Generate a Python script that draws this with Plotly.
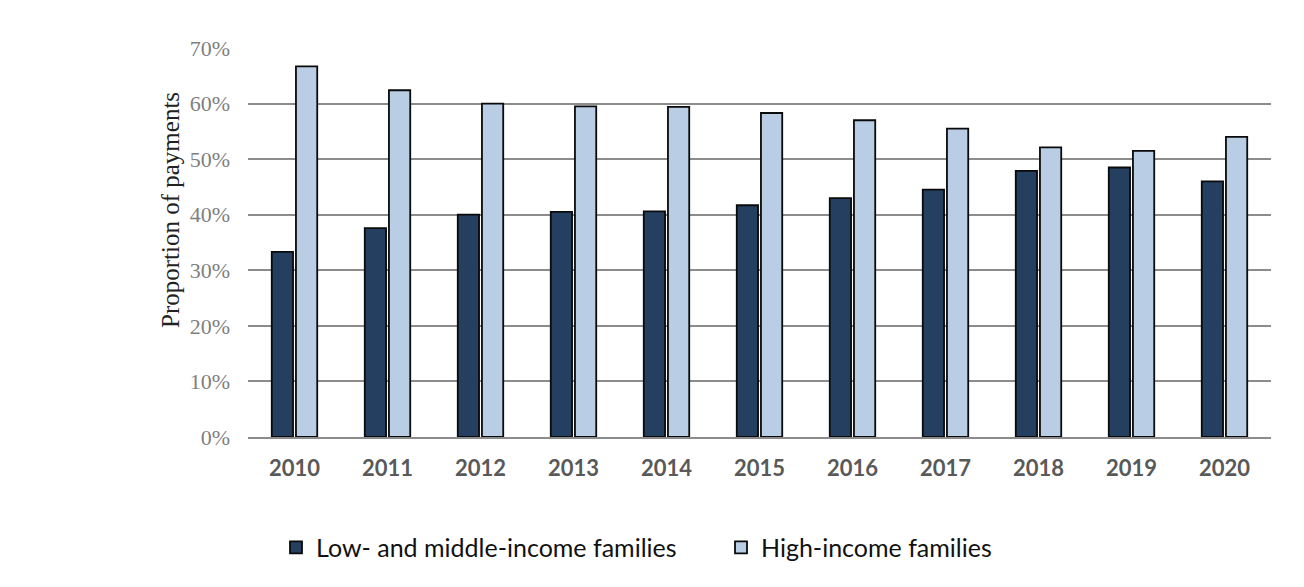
import plotly.graph_objects as go

years = ["2010", "2011", "2012", "2013", "2014", "2015", "2016", "2017", "2018", "2019", "2020"]
low_mid = [33.3, 37.6, 40.0, 40.5, 40.6, 41.7, 43.0, 44.5, 47.9, 48.5, 46.0]
high = [66.7, 62.4, 60.0, 59.5, 59.4, 58.3, 57.0, 55.5, 52.1, 51.5, 54.0]
y_ticks = [0, 10, 20, 30, 40, 50, 60, 70]
y_labels = [f"{v}%" for v in y_ticks]

# page pixel geometry (page has an 8px body margin)
PL, PR, PT, PB = 248, 1271, 48, 437
OFF = 8
W, H = 1304, 587
pw, ph = PR - PL, PB - PT

fig = go.Figure()
fig.add_trace(go.Bar(x=years, y=low_mid, name="Low- and middle-income families",
                     marker=dict(color="#243F60", line=dict(color="#0a0a0a", width=1.8))))
fig.add_trace(go.Bar(x=years, y=high, name="High-income families",
                     marker=dict(color="#B9CDE5", line=dict(color="#0a0a0a", width=1.8))))

fig.update_layout(
    width=W, height=H,
    margin=dict(l=PL - OFF, r=W - (PR - OFF), t=PT - OFF, b=H - (PB - OFF)),
    paper_bgcolor="white", plot_bgcolor="white",
    barmode="group", bargap=0.48, bargroupgap=0.12,
    showlegend=True,
    legend=dict(orientation="h", x=(276 - PL) / pw, xanchor="left", y=-0.225, yanchor="top",
                font=dict(family="Lato", size=25, color="#111111"),
                entrywidth=400, traceorder="normal"),
    annotations=[dict(text="Proportion of payments", textangle=-90,
                      x=(170 - PL) / pw, y=(PB - 210) / ph,
                      xanchor="center", yanchor="middle",
                      xref="paper", yref="paper", showarrow=False,
                      font=dict(family="Liberation Serif", size=25, color="#222222"))],
)

fig.update_yaxes(range=[0, 70], tickvals=y_ticks, ticktext=y_labels,
                 showgrid=True, gridcolor="#8c8c8c", gridwidth=2,
                 zeroline=False, showline=False, ticks="",
                 ticklabelstandoff=17,
                 tickfont=dict(family="Liberation Serif", size=22, color="#7f7f7f"))
fig.update_xaxes(showline=True, linecolor="#8c8c8c", linewidth=2, ticks="",
                 ticklabelstandoff=11,
                 tickfont=dict(family="Lato", size=22, color="#595959", weight="bold"))

fig.write_html("out.html")
